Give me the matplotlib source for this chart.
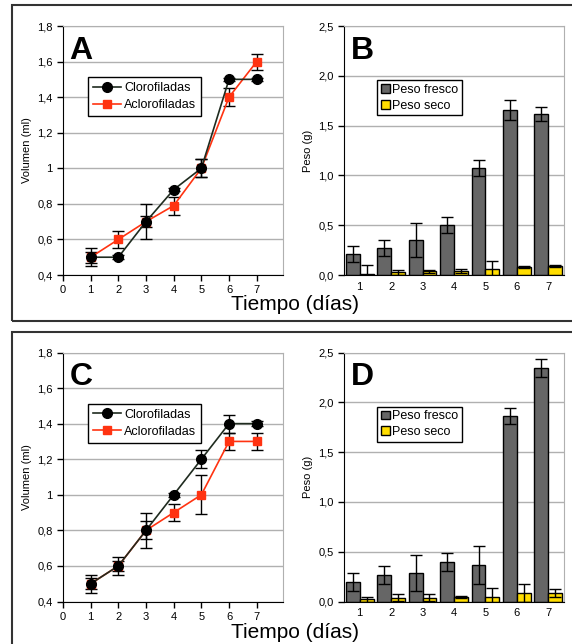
import numpy as np
import matplotlib
matplotlib.use("Agg")
from matplotlib import pyplot as plt
from matplotlib.ticker import FuncFormatter
from matplotlib.patches import Rectangle
from matplotlib.lines import Line2D

plt.rcParams['font.family'] = ['Liberation Sans', 'DejaVu Sans']

dias = [1, 2, 3, 4, 5, 6, 7]

# panel A - volumen
cloro_a = [0.5, 0.5, 0.7, 0.88, 1.0, 1.5, 1.5]
cloro_a_err = [0.05, 0.01, 0.10, 0.01, 0.05, 0.01, 0.01]
acloro_a = [0.5, 0.6, 0.7, 0.79, 1.0, 1.4, 1.6]
acloro_a_err = [0.03, 0.05, 0.03, 0.05, 0.05, 0.05, 0.045]

# panel B - peso
fresco_b = [0.21, 0.27, 0.35, 0.50, 1.07, 1.66, 1.62]
fresco_b_err = [0.08, 0.08, 0.17, 0.08, 0.08, 0.10, 0.07]
seco_b = [0.01, 0.03, 0.04, 0.04, 0.06, 0.08, 0.09]
seco_b_err = [0.09, 0.025, 0.015, 0.02, 0.08, 0.01, 0.01]

# panel C - volumen
cloro_c = [0.5, 0.6, 0.8, 1.0, 1.2, 1.4, 1.4]
cloro_c_err = [0.05, 0.05, 0.10, 0.01, 0.05, 0.05, 0.015]
acloro_c = [0.5, 0.6, 0.8, 0.9, 1.0, 1.3, 1.3]
acloro_c_err = [0.03, 0.03, 0.05, 0.05, 0.11, 0.05, 0.05]

# panel D - peso
fresco_d = [0.20, 0.27, 0.29, 0.40, 0.37, 1.86, 2.34]
fresco_d_err = [0.09, 0.09, 0.18, 0.09, 0.19, 0.08, 0.09]
seco_d = [0.025, 0.04, 0.04, 0.05, 0.05, 0.09, 0.09]
seco_d_err = [0.025, 0.035, 0.035, 0.01, 0.09, 0.09, 0.04]

W, H = 572, 644
fig = plt.figure(figsize=(W / 100, H / 100), dpi=100)

# marcos de los paneles
fig.patches.append(Rectangle((12 / W, 1 - 321 / H), 600 / W, 316 / H, transform=fig.transFigure,
                             fill=False, edgecolor='#333333', linewidth=1.5))
fig.patches.append(Rectangle((12 / W, -20 / H), 600 / W, (H - 332 + 20) / H, transform=fig.transFigure,
                             fill=False, edgecolor='#333333', linewidth=1.5))

LINEA_CLORO = '#1f2b1f'
ROJO = '#ff3311'


def fmt_vol(v, pos):
    if abs(v - round(v)) < 1e-6:
        return "%d" % round(v)
    return ("%.1f" % v).replace(".", ",")


def fmt_peso(v, pos):
    return ("%.1f" % v).replace(".", ",")


def style_axes(ax):
    ax.spines['top'].set_color('#b0b0b0')
    ax.spines['right'].set_color('#b0b0b0')
    ax.spines['left'].set_color('black')
    ax.spines['bottom'].set_color('black')
    ax.grid(axis='y', color='#b0b0b0', linewidth=1)
    ax.set_axisbelow(True)
    ax.tick_params(labelsize=8, colors='black', length=4, width=1)


def panel_linea(rect, cloro, cloro_err, acloro, acloro_err, letra):
    ax = fig.add_axes(rect)
    style_axes(ax)
    ax.errorbar(dias, acloro, yerr=acloro_err, color=ROJO, marker='s', markersize=6,
                linewidth=1.2, ecolor='black', elinewidth=1, capsize=4, zorder=3)
    ax.errorbar(dias, cloro, yerr=cloro_err, color=LINEA_CLORO, marker='o', markersize=7,
                markerfacecolor='black', markeredgecolor='black',
                linewidth=1.2, ecolor='black', elinewidth=1, capsize=4, zorder=4)
    ax.set_xlim(0, 7.95)
    ax.set_ylim(0.4, 1.8)
    ax.set_xticks(range(0, 8))
    ax.set_yticks(np.arange(0.4, 1.81, 0.2))
    ax.yaxis.set_major_formatter(FuncFormatter(fmt_vol))
    ax.set_ylabel('Volumen (ml)', fontsize=8, labelpad=4)
    ax.text(0.03, 0.96, letra, transform=ax.transAxes, fontsize=23, fontweight='bold', va='top', ha='left')
    h = [Line2D([], [], color=LINEA_CLORO, marker='o', markersize=7, markerfacecolor='black',
                markeredgecolor='black', linewidth=1.2),
         Line2D([], [], color=ROJO, marker='s', markersize=6, linewidth=1.2)]
    leg = ax.legend(h, ['Clorofiladas', 'Aclorofiladas'], loc='upper left', bbox_to_anchor=(0.114, 0.795),
                    borderaxespad=0, fontsize=9, fancybox=False, edgecolor='black', framealpha=1,
                    handlelength=2.2, borderpad=0.4, labelspacing=0.4, handletextpad=0.3)
    leg.get_frame().set_linewidth(1)
    return ax


def panel_barras(rect, fresco, fresco_err, seco, seco_err, letra):
    ax = fig.add_axes(rect)
    style_axes(ax)
    x = np.array(dias)
    w = 0.44
    ax.bar(x - w / 2, fresco, w, yerr=fresco_err, color='#666666', edgecolor='black', linewidth=1,
           error_kw=dict(ecolor='black', elinewidth=1, capsize=4), label='Peso fresco')
    ax.bar(x + w / 2, seco, w, yerr=seco_err, color='#ffdd00', edgecolor='black', linewidth=1,
           error_kw=dict(ecolor='black', elinewidth=1, capsize=4), label='Peso seco')
    ax.set_xlim(0.5, 7.5)
    ax.set_ylim(0, 2.5)
    ax.set_xticks(x)
    ax.tick_params(axis='x', length=0, pad=5)
    ax.set_yticks(np.arange(0, 2.51, 0.5))
    ax.yaxis.set_major_formatter(FuncFormatter(fmt_peso))
    ax.set_ylabel('Peso (g)', fontsize=8, labelpad=4)
    ax.text(0.03, 0.96, letra, transform=ax.transAxes, fontsize=23, fontweight='bold', va='top', ha='left')
    leg = ax.legend(loc='upper left', bbox_to_anchor=(0.15, 0.783), borderaxespad=0, fontsize=9,
                    fancybox=False, edgecolor='black', framealpha=1, handlelength=0.7, handleheight=0.7,
                    borderpad=0.3, labelspacing=0.3, handletextpad=0.2)
    leg.get_frame().set_linewidth(1)
    return ax


aw = 220 / W
ah = 249 / H
panel_linea([63 / W, 1 - 275 / H, aw, ah], cloro_a, cloro_a_err, acloro_a, acloro_a_err, 'A')
panel_barras([344 / W, 1 - 275 / H, aw, ah], fresco_b, fresco_b_err, seco_b, seco_b_err, 'B')
panel_linea([63 / W, 1 - 601.5 / H, aw, ah], cloro_c, cloro_c_err, acloro_c, acloro_c_err, 'C')
panel_barras([344 / W, 1 - 601.5 / H, aw, ah], fresco_d, fresco_d_err, seco_d, seco_d_err, 'D')

fig.text(295 / W, 1 - 305 / H, 'Tiempo (días)', fontsize=15, ha='center', va='center')
fig.text(295 / W, 1 - 632 / H, 'Tiempo (días)', fontsize=15, ha='center', va='center')

fig.savefig('out.png', dpi=100)
